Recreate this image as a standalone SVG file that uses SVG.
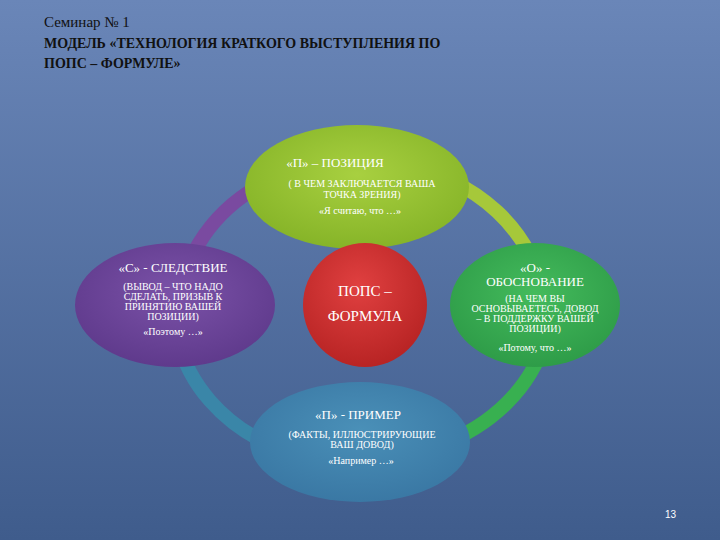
<svg xmlns="http://www.w3.org/2000/svg" width="720" height="540" viewBox="0 0 720 540">
<defs>
<linearGradient id="bg" x1="0" y1="0" x2="0" y2="1"><stop offset="0" stop-color="#6a86b8"/><stop offset="1" stop-color="#3f5c8c"/></linearGradient>
<radialGradient id="gTop" cx="0.5" cy="0.4" r="0.6"><stop offset="0" stop-color="#a8d040"/><stop offset="1" stop-color="#86b428"/></radialGradient>
<radialGradient id="gLeft" cx="0.5" cy="0.4" r="0.6"><stop offset="0" stop-color="#7b52a8"/><stop offset="1" stop-color="#5f3a8c"/></radialGradient>
<radialGradient id="gRight" cx="0.5" cy="0.4" r="0.6"><stop offset="0" stop-color="#44bb5c"/><stop offset="1" stop-color="#2e9c48"/></radialGradient>
<radialGradient id="gBot" cx="0.5" cy="0.4" r="0.6"><stop offset="0" stop-color="#4a90b8"/><stop offset="1" stop-color="#3a78a4"/></radialGradient>
<radialGradient id="gMid" cx="0.45" cy="0.35" r="0.65"><stop offset="0" stop-color="#e04040"/><stop offset="1" stop-color="#b82424"/></radialGradient>
<style>
text{font-family:'Liberation Serif','DejaVu Serif',serif}
.t{fill:#fff;text-anchor:middle}
.h{font-size:13px}.s{font-size:10px}
.ring{fill:none;stroke-width:14}
</style>
</defs>
<rect width="720" height="540" fill="url(#bg)"/>
<g fill="#111">
<text x="44" y="27" font-size="15">Семинар № 1</text>
<text x="44" y="48" font-size="14" font-weight="bold">МОДЕЛЬ «ТЕХНОЛОГИЯ КРАТКОГО ВЫСТУПЛЕНИЯ ПО</text>
<text x="44" y="68" font-size="14" font-weight="bold">ПОПС – ФОРМУЛЕ»</text>
</g>
<g id="connectors">
<path class="ring" stroke="#7a4aa0" d="M180,330 A185,155 0 0 1 270,180"/>
<path class="ring" stroke="#a6c83a" d="M450,180 A185,155 0 0 1 530,255"/>
<path class="ring" stroke="#38b050" d="M545,340 A185,155 0 0 1 440,445"/>
<path class="ring" stroke="#3a86a8" d="M270,445 A185,155 0 0 1 178,340"/>
</g>
<g id="n-top"><ellipse cx="357" cy="187" rx="112" ry="62" fill="url(#gTop)"/>
<text class="t h" x="335" y="167">«П» – ПОЗИЦИЯ</text>
<text class="t s" x="362" y="187">( В ЧЕМ ЗАКЛЮЧАЕТСЯ ВАША</text>
<text class="t s" x="362" y="198">ТОЧКА ЗРЕНИЯ)</text>
<text class="t s" x="360" y="214">«Я считаю, что …»</text></g>
<g id="n-left"><ellipse cx="175" cy="305" rx="100" ry="62" fill="url(#gLeft)"/>
<text class="t h" x="173" y="272">«С» - СЛЕДСТВИЕ</text>
<text class="t s" x="173" y="290">(ВЫВОД – ЧТО НАДО</text>
<text class="t s" x="173" y="300">СДЕЛАТЬ, ПРИЗЫВ К</text>
<text class="t s" x="173" y="310">ПРИНЯТИЮ ВАШЕЙ</text>
<text class="t s" x="173" y="320">ПОЗИЦИИ)</text>
<text class="t s" x="173" y="335">«Поэтому …»</text></g>
<g id="n-mid"><circle cx="365" cy="305" r="62" fill="url(#gMid)"/>
<text class="t" x="365" y="296" font-size="15">ПОПС –</text>
<text class="t" x="365" y="321" font-size="15">ФОРМУЛА</text></g>
<g id="n-right"><ellipse cx="535" cy="305" rx="85" ry="62" fill="url(#gRight)"/>
<text class="t h" x="535" y="272">«О» -</text>
<text class="t h" x="535" y="286">ОБОСНОВАНИЕ</text>
<text class="t s" x="535" y="302">(НА ЧЕМ ВЫ</text>
<text class="t s" x="535" y="312">ОСНОВЫВАЕТЕСЬ, ДОВОД</text>
<text class="t s" x="535" y="322">– В ПОДДЕРЖКУ ВАШЕЙ</text>
<text class="t s" x="535" y="332">ПОЗИЦИИ)</text>
<text class="t s" x="535" y="351">«Потому, что …»</text></g>
<g id="n-bot"><ellipse cx="360" cy="442" rx="110" ry="60" fill="url(#gBot)"/>
<text class="t h" x="358" y="419">«П» - ПРИМЕР</text>
<text class="t s" x="362" y="438">(ФАКТЫ, ИЛЛЮСТРИРУЮЩИЕ</text>
<text class="t s" x="362" y="448">ВАШ ДОВОД)</text>
<text class="t s" x="361" y="464">«Например …»</text></g>
<text x="676" y="518" style="font-family:'Liberation Sans',sans-serif" font-size="10" fill="#fff" text-anchor="end">13</text>
</svg>
